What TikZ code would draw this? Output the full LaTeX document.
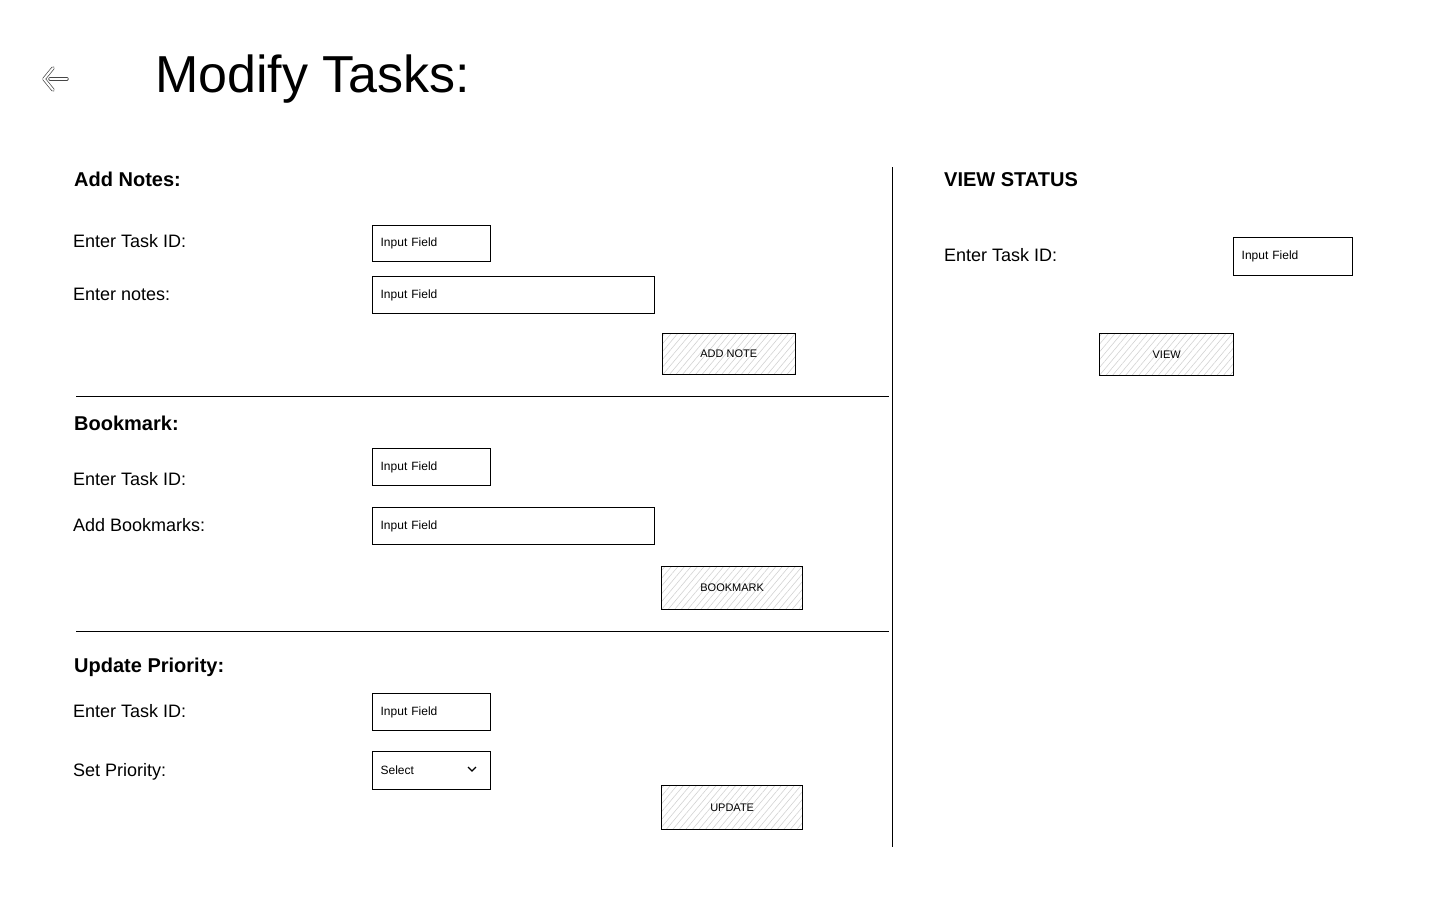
\documentclass[tikz,border=0pt]{standalone}
\usepackage{fontspec}
\setmainfont{Liberation Sans}
\usetikzlibrary{patterns.meta}
\begin{document}
\begin{tikzpicture}[x=1pt,y=-1pt,
	lbl/.style={anchor=base west,inner sep=0pt,font=\fontsize{18}{20}\selectfont},
	head/.style={anchor=base west,inner sep=0pt,font=\fontsize{20}{22}\selectfont\bfseries},
	field/.style={draw,line width=1.3pt,anchor=north west,inner xsep=8pt,inner ysep=0pt,align=left,font=\fontsize{12}{13}\selectfont},
	btn/.style={draw,line width=1.3pt,anchor=north west,inner sep=0pt,pattern={Lines[angle=50,distance=5pt,line width=0.6pt]},pattern color=gray!35,font=\fontsize{11}{12}\selectfont},
	sep/.style={line width=1pt},
	backline/.style={draw=gray!55!black,line width=0.7pt,double=white,double distance=2pt,line cap=round,line join=round}]
		\useasboundingbox (0,0) rectangle (1440,900);
		% header
		\draw[backline] (50,79) -- (67,79);
		\draw[backline] (53,68) -- (44,79) -- (53,90);
		\node[anchor=base west,inner sep=0pt,font=\fontsize{52}{56}\selectfont] (title) at (155,92) {Modify Tasks:};
		% dividers
		\draw[sep] (892,167) -- (892,847);
		\draw[sep] (76,396) -- (889,396);
		\draw[sep] (76,631) -- (889,631);
		% add notes
		\node[head] (notes) at (74,186) {Add Notes:};
		\node[lbl] (notesid) at (73,247) {Enter Task ID:};
		\node[lbl] (notestxt) at (73,300) {Enter notes:};
		\node[field,minimum height=36,text width=102] (notesidin) at (372,225) {Input Field};
		\node[field,minimum height=37,text width=266] (notestxtin) at (372,276) {Input Field};
		\node[btn,minimum width=133,minimum height=41] (addnote) at (662,333) {ADD NOTE};
		% bookmark
		\node[head] (bmk) at (74,430) {Bookmark:};
		\node[lbl] (bmkid) at (73,485) {Enter Task ID:};
		\node[lbl] (bmktxt) at (73,531) {Add Bookmarks:};
		\node[field,minimum height=37,text width=102] (bmkidin) at (372,448) {Input Field};
		\node[field,minimum height=37,text width=266] (bmktxtin) at (372,507) {Input Field};
		\node[btn,minimum width=141,minimum height=43] (bookmark) at (661,566) {BOOKMARK};
		% update priority
		\node[head] (prio) at (74,672) {Update Priority:};
		\node[lbl] (prioid) at (73,717) {Enter Task ID:};
		\node[lbl] (prioset) at (73,776) {Set Priority:};
		\node[field,minimum height=37,text width=102] (prioidin) at (372,693) {Input Field};
		\node[field,minimum height=38,text width=102] (priosel) at (372,751) {Select};
		\draw[line width=1.1pt] (468,767) -- (472,771) -- (476,767);
		\node[btn,minimum width=141,minimum height=44] (update) at (661,785) {UPDATE};
		% view status
		\node[head] (status) at (944,186) {VIEW STATUS};
		\node[lbl] (statusid) at (944,261) {Enter Task ID:};
		\node[field,minimum height=38,text width=103] (statusidin) at (1233,237) {Input Field};
		\node[btn,minimum width=134,minimum height=42] (view) at (1099,333) {VIEW};
\end{tikzpicture}
\end{document}
